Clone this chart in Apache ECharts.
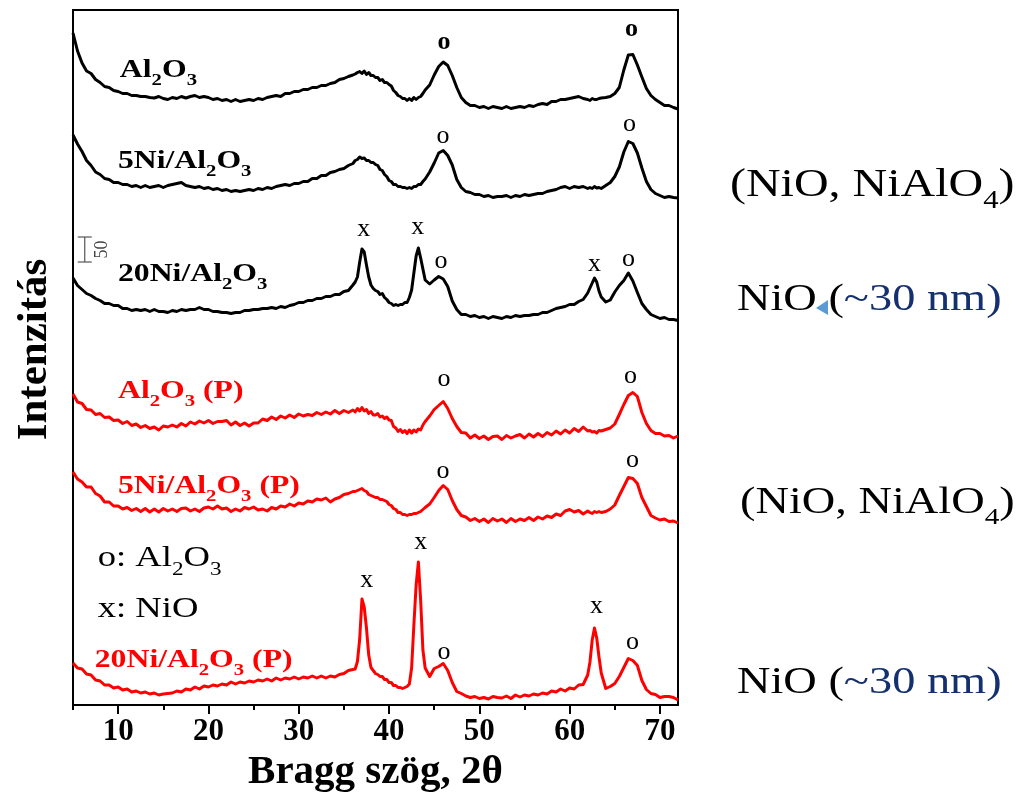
<!DOCTYPE html>
<html>
<head>
<meta charset="utf-8">
<script src="https://cdn.jsdelivr.net/npm/echarts@6/dist/echarts.min.js"></script>
<style>
  html, body { margin: 0; padding: 0; background: #ffffff; }
  #chart { width: 1028px; height: 811px; }
</style>
</head>
<body>
<div id="chart"></div>
<script>
// ---- scan grid (2θ, degrees): coarse steps on flat background, finer around the peaks ----
const scanRanges = [[5, 36, 0.5], [36.25, 44, 0.25], [44.5, 62, 0.5], [62.25, 63.5, 0.25], [64, 72, 0.5]];
function expandRanges(ranges) {
  const out = [];
  ranges.forEach(([a, b, s]) => {
    for (let k = 0; a + k * s <= b + 1e-9; k++) out.push(+(a + k * s).toFixed(2));
  });
  return out;
}
const twoTheta = expandRanges(scanRanges);

// ---- samples ----
const sampleNames = ['Al_2O_3', '5Ni/Al_2O_3', '20Ni/Al_2O_3', 'Al_2O_3 (P)', '5Ni/Al_2O_3 (P)', '20Ni/Al_2O_3 (P)'];
const sampleColors = ['#000000', '#000000', '#000000', '#ff0000', '#ff0000', '#ff0000'];
// vertical stacking offsets (counts)
const stackOffsets = [1180, 1010, 760, 520, 360, 0];

// ---- intensities (counts above each pattern's own base) ----
const iAl2O3 = [
  164,128,104,88,83,71,65,57,55,49, 47,43,43,39,39,37,37,35,34,37, 33,31,35,33,37,34,37,39,35,37,
  35,31,33,29,31,27,31,27,29,31, 29,33,31,35,37,39,37,43,43,47, 47,51,51,55,55,59,59,63,65,71, 73,77,80,
  82,85,87,83,88,81,85,79, 79,75,75,69,71,65,65,61, 58,49,45,39,37,33,33,29, 33,29,35,31,35,37,43,50,
  60,80,97,106,99,79,55,35,25,19, 19,15,17,13,17,15,13,17,13,15, 17,15,19,17,21,23,21,27,27,31, 31,33,35,37,33,31,
  29,33,31,31,33,34,
  35,37,43,55,90,120,121,100,76,53,39,31,25,19,19,15,12
];
const i5Ni = [
  130,112,97,79,69,56,51,43,41,35, 35,31,31,27,29,25,29,25,27,29, 25,29,31,33,35,29,27,25,27,23,
  25,21,23,19,21,17,19,17,19,21, 19,23,21,25,23,27,29,31,29,33, 33,37,37,43,43,49,49,55,57,61, 63,69,73,
  79,81,86,83,84,79,79,75, 75,71,69,61,59,51,47,39, 37,31,31,27,27,25,25,23, 25,23,27,27,31,31,37,42,
  56,74,94,99,89,70,41,25,17,15, 11,11,7,9,5,7,7,9,5,9, 7,11,9,11,13,13,17,19,21,25, 27,23,27,25,27,23,
  25,23,27,24,25,23,
  29,35,47,66,96,117,113,94,64,37,21,13,9,5,7,5,4
];
const i20Ni = [
  94,79,71,63,59,53,49,43,43,39, 39,33,33,29,31,29,31,27,31,27, 27,25,29,27,31,29,31,31,35,31,
  31,27,27,25,25,23,25,25,29,29, 31,31,33,33,35,33,37,35,39,41, 45,45,49,49,53,53,57,57,61,61, 67,69,80,
  86,96,126,152,146,120,96,80, 73,69,67,61,63,55,51,45, 43,39,41,39,41,41,45,45, 55,70,104,138,154,134,112,90,
  82,90,97,92,77,48,31,21,21,17, 19,15,17,13,17,15,13,17,15,19, 17,19,19,21,21,25,25,29,33,35, 37,41,41,47,51,64,
  74,84,94,86,68,56,
  46,50,66,79,89,104,88,65,43,31,21,17,13,15,11,11,9
];
const iAl2O3P = [
  102,86,83,71,70,61,63,55,56,49, 50,43,47,39,42,35,39,33,36,30, 38,36,40,36,43,38,46,42,48,44,
  49,43,47,47,49,40,46,39,44,38, 44,44,52,49,56,51,58,54,60,55, 62,58,61,59,65,61,66,62,69,63, 69,65,70,
  66,73,68,75,68,71,63,67, 60,60,63,56,58,53,56,50, 49,37,34,27,31,25,29,23, 30,24,30,26,32,30,40,47,
  58,71,79,87,73,53,37,25,24,14, 20,13,18,11,17,18,11,19,14,18, 21,14,22,16,23,17,25,20,28,22, 30,24,33,27,36,28,
  29,26,27,24,29,28,
  31,34,42,61,81,99,105,97,65,43,29,23,23,18,19,14,18
];
const i5NiP = [
  106,92,86,76,76,63,58,46,46,38, 38,32,35,29,33,27,33,26,32,26, 33,28,32,27,33,34,28,32,27,34,
  36,32,38,32,34,27,32,28,35,32, 36,30,32,28,35,32,38,36,42,38, 44,42,48,46,52,50,54,46,52,55, 61,63,67,
  67,69,71,73,69,67,61,59, 57,55,55,51,51,49,47,41, 39,33,31,25,25,21,21,19, 21,21,23,23,25,27,31,35,
  42,55,69,79,71,49,31,19,16,9, 13,7,12,5,13,8,12,5,13,7, 12,9,15,9,16,12,18,15,22,19, 28,31,26,29,22,28,
  25,23,27,25,27,25,
  27,32,40,59,77,95,93,83,55,37,19,14,10,12,7,8,4
];
const i20NiP = [
  84,74,72,62,60,50,48,40,40,34, 36,30,32,26,28,24,26,22,24,20, 22,23,24,28,26,32,30,36,32,38,
  36,40,38,42,40,46,42,46,44,48, 46,50,48,52,48,54,50,54,52,56, 52,56,54,58,54,58,54,58,56,61, 63,69,71,
  72,87,132,212,196,154,100,75, 69,63,61,57,57,51,51,45, 45,39,39,35,35,33,35,37, 42,74,160,240,286,210,110,74,
  57,73,77,83,69,45,27,23,18,15, 17,13,15,12,17,15,14,18,13,20, 16,20,18,22,20,24,22,28,26,32, 28,34,32,40,41,60,
  86,130,154,134,96,64,
  33,37,43,57,75,93,89,79,49,31,23,21,15,17,17,15,10
];
const intensities = [iAl2O3, i5Ni, i20Ni, iAl2O3P, i5NiP, i20NiP];

// ---- axis ticks ----
const majorTicks = [10, 20, 30, 40, 50, 60, 70];
const minorTicks = [5, 15, 25, 35, 45, 55, 65];

// ---- peak assignments: [2θ, plot height, symbol, sample] ----
const peakMarks = [
  [46.08, 1326, 'o', 0], [66.86, 1352, 'o', 0],
  [45.97, 1138, 'o', 1], [66.63, 1162, 'o', 1],
  [37.19, 952, 'x', 2], [43.19, 956, 'x', 2], [45.74, 888, 'o', 2], [62.75, 882, 'x', 2], [66.52, 892, 'o', 2],
  [46.08, 652, 'o', 3], [66.74, 658, 'o', 3],
  [45.97, 468, 'o', 4], [66.97, 490, 'o', 4],
  [37.52, 250, 'x', 5], [43.52, 326, 'x', 5], [46.08, 106, 'o', 5], [62.97, 198, 'x', 5], [66.97, 126, 'o', 5]
];
// sample name anchors: [2θ, plot height]
const nameAnchors = [[10.19, 1270], [9.98, 1088], [9.98, 862], [9.98, 628], [9.98, 438], [7.41, 90]];
// phase key
const phaseKey = [['o: Al_2O_3', 7.74, 294], ['x: NiO', 7.74, 192]];
// intensity scale bar: [2θ, start, length]
const scaleBar = [6.3, 886, 50];

// ---- text helpers ----
const SERIF = '"Liberation Serif", "Times New Roman", serif';
const measureCtx = document.createElement('canvas').getContext('2d');

// runs: array of [string, color]; "_c" inside a string marks c as a subscript
function textRuns(runs, size, weight) {
  const parts = [];
  runs.forEach(([str, fill]) => {
    for (let i = 0; i < str.length; i++) {
      if (str[i] === '_') { parts.push({ t: str[i + 1], sub: true, fill }); i++; }
      else {
        const last = parts[parts.length - 1];
        if (last && !last.sub && last.fill === fill) last.t += str[i];
        else parts.push({ t: str[i], sub: false, fill });
      }
    }
  });
  let x = 0;
  const children = [];
  parts.forEach(p => {
    const fs = p.sub ? Math.round(size * 0.64) : size;
    const font = weight + ' ' + fs + 'px ' + SERIF;
    measureCtx.font = font;
    const w = measureCtx.measureText(p.t).width;
    children.push({
      type: 'text', x: x, y: p.sub ? size * 0.4 : 0, silent: true,
      style: { text: p.t, font: font, fill: p.fill, textAlign: 'left', textVerticalAlign: 'middle' }
    });
    x += w;
  });
  return { children, width: x };
}

// ---- series ----
const lineSeries = intensities.map((vals, s) => ({
  type: 'line',
  name: sampleNames[s],
  data: twoTheta.map((t, i) => [t, stackOffsets[s] + vals[i]]),
  showSymbol: false,
  symbol: 'none',
  silent: true,
  lineStyle: { color: sampleColors[s], width: 3, join: 'round' },
  itemStyle: { color: sampleColors[s] },
  z: 3
}));

const LABEL_SCALE = 1.22;
const nameSeries = {
  type: 'custom',
  coordinateSystem: 'cartesian2d',
  clip: false, silent: true, z: 5,
  data: nameAnchors.map((a, i) => [a[0], a[1], i]),
  encode: { x: 0, y: 1 },
  renderItem(params, api) {
    const idx = api.value(2);
    const p = api.coord([api.value(0), api.value(1)]);
    const built = textRuns([[sampleNames[idx], sampleColors[idx]]], 26, 'bold');
    return { type: 'group', x: p[0], y: p[1], scaleX: LABEL_SCALE, children: built.children };
  }
};

const keySeries = {
  type: 'custom',
  coordinateSystem: 'cartesian2d',
  clip: false, silent: true, z: 5,
  data: phaseKey.map((k, i) => [k[1], k[2], i]),
  encode: { x: 0, y: 1 },
  renderItem(params, api) {
    const idx = api.value(2);
    const p = api.coord([api.value(0), api.value(1)]);
    const built = textRuns([[phaseKey[idx][0], '#000000']], 30, 'normal');
    return { type: 'group', x: p[0], y: p[1], scaleX: LABEL_SCALE, children: built.children };
  }
};

const peakSeries = {
  type: 'custom',
  coordinateSystem: 'cartesian2d',
  clip: false, silent: true, z: 5,
  data: peakMarks.map((m, i) => [m[0], m[1], i]),
  encode: { x: 0, y: 1 },
  renderItem(params, api) {
    const m = peakMarks[api.value(2)];
    const p = api.coord([api.value(0), api.value(1)]);
    return {
      type: 'text', x: p[0], y: p[1], silent: true,
      style: {
        text: m[2], fill: '#000000',
        font: (m[3] === 0 ? 'bold ' : 'normal ') + '26px ' + SERIF,
        textAlign: 'center', textVerticalAlign: 'middle'
      }
    };
  }
};

const barSeries = {
  type: 'custom',
  coordinateSystem: 'cartesian2d',
  clip: false, silent: true, z: 5,
  data: [scaleBar],
  encode: { x: 0, y: 1 },
  renderItem(params, api) {
    const x = api.value(0), y0 = api.value(1), h = api.value(2);
    const b = api.coord([x, y0]);
    const t = api.coord([x, y0 + h]);
    const st = { stroke: '#555555', lineWidth: 1.2 };
    return {
      type: 'group', silent: true, children: [
        { type: 'line', shape: { x1: b[0], y1: b[1], x2: t[0], y2: t[1] }, style: st },
        { type: 'line', shape: { x1: b[0] - 7, y1: b[1], x2: b[0] + 7, y2: b[1] }, style: st },
        { type: 'line', shape: { x1: t[0] - 7, y1: t[1], x2: t[0] + 7, y2: t[1] }, style: st },
        { type: 'text', x: b[0] + 18, y: (b[1] + t[1]) / 2, rotation: Math.PI / 2,
          style: { text: String(h), font: '18px ' + SERIF, fill: '#444444', textAlign: 'center', textVerticalAlign: 'middle' } }
      ]
    };
  }
};

// ---- phase notes on the right ----
const NAVY = '#14306e';
const sideNotes = [
  { runs: [['(NiO, NiAlO_4)', '#000000']], x: 730, y: 186, size: 39, scale: 1.23 },
  { runs: [['NiO (', '#000000'], ['~30 nm)', NAVY]], x: 737, y: 300, size: 38, scale: 1.22 },
  { runs: [['(NiO, NiAlO_4)', '#000000']], x: 740, y: 503, size: 38, scale: 1.22 },
  { runs: [['NiO (', '#000000'], ['~30 nm)', NAVY]], x: 737, y: 683, size: 38, scale: 1.22 }
];
const graphicEls = sideNotes.map(n => {
  const built = textRuns(n.runs, n.size, 'normal');
  return { type: 'group', x: n.x, y: n.y, scaleX: n.scale, silent: true, children: built.children };
});
graphicEls.push({
  type: 'polygon', silent: true,
  shape: { points: [[828, 300], [828, 315], [816, 308]] },
  style: { fill: '#5b9bd5' }
});

const chart = echarts.init(document.getElementById('chart'), null, { renderer: 'canvas' });
chart.setOption({
  animation: false,
  backgroundColor: '#ffffff',
  textStyle: { fontFamily: SERIF },
  grid: {
    left: 73, right: 350, top: 10, bottom: 106,
    containLabel: false, outerBoundsMode: 'none',
    show: true, borderColor: '#000000', borderWidth: 2, backgroundColor: 'transparent'
  },
  xAxis: [
    {
      type: 'value', min: 5, max: 72, interval: 5, position: 'bottom',
      axisLine: { show: true, onZero: false, lineStyle: { color: '#000000', width: 2 } },
      axisTick: { show: true, customValues: majorTicks, length: 9, lineStyle: { color: '#000000', width: 2 } },
      axisLabel: { show: true, customValues: majorTicks, margin: 11, color: '#000000', fontSize: 31, fontWeight: 'bold', fontFamily: SERIF },
      splitLine: { show: false },
      name: 'Bragg szög, 2θ', nameLocation: 'middle', nameGap: 46,
      nameTextStyle: { color: '#000000', fontSize: 41, fontWeight: 'bold', fontFamily: SERIF }
    },
    {
      type: 'value', min: 5, max: 72, interval: 5, position: 'bottom',
      axisLine: { show: false, onZero: false },
      axisTick: { show: true, customValues: minorTicks, length: 5, lineStyle: { color: '#000000', width: 2 } },
      axisLabel: { show: false },
      splitLine: { show: false }
    }
  ],
  yAxis: {
    type: 'value', min: 0, max: 1390,
    axisLine: { show: true, onZero: false, lineStyle: { color: '#000000', width: 2 } },
    axisTick: { show: false }, axisLabel: { show: false }, splitLine: { show: false },
    name: 'Intenzitás', nameLocation: 'middle', nameGap: 17, nameRotate: 90,
    nameTextStyle: { color: '#000000', fontSize: 43, fontWeight: 'bold', fontFamily: SERIF, padding: [0, 0, 0, 16] }
  },
  series: [...lineSeries, nameSeries, keySeries, peakSeries, barSeries],
  graphic: { elements: graphicEls }
});
</script>
</body>
</html>
